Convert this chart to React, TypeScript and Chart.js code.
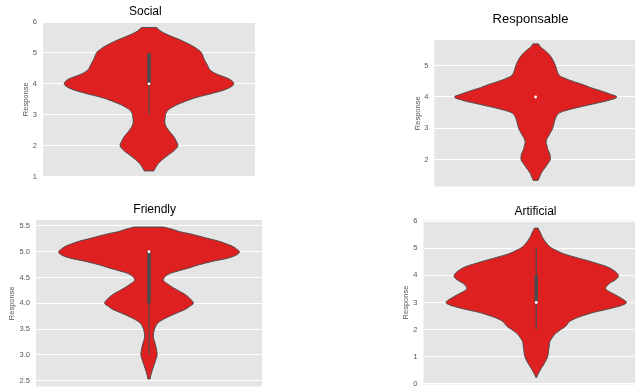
import React, { useEffect, useRef } from 'react';
import { Chart, registerables } from 'chart.js';

Chart.register(...registerables);

const FONT = '"Liberation Sans", Arial, Helvetica, sans-serif';
const RED = '#df2020';
const EDGE = '#4c4c4c';
const PANEL_BG = '#e5e5e5';
const TICK_COLOR = '#555555';
const VIOLIN_HALF = 0.4;

// ---- data: response levels and relative violin density (1 = widest) ----
const socialLevels = [1.18, 1.3, 1.42, 1.55, 1.7, 1.85, 2.0, 2.15, 2.3, 2.5, 2.7, 2.9, 3.1, 3.25, 3.4, 3.55, 3.7, 3.85, 4.0, 4.15, 4.3, 4.45, 4.6, 4.8, 5.0, 5.1, 5.2, 5.3, 5.42, 5.53, 5.64, 5.72, 5.82];
const socialDensity = [0.055, 0.08, 0.11, 0.16, 0.23, 0.3, 0.34, 0.32, 0.29, 0.23, 0.19, 0.19, 0.21, 0.28, 0.4, 0.55, 0.76, 0.93, 1.0, 0.95, 0.81, 0.72, 0.69, 0.65, 0.62, 0.58, 0.53, 0.46, 0.37, 0.27, 0.18, 0.13, 0.09];
const socialBox = [3, 4, 4, 5, 5];
const socialTicks = [1, 2, 3, 4, 5, 6];

const responsableLevels = [1.33, 1.45, 1.57, 1.68, 1.79, 1.9, 2.0, 2.1, 2.21, 2.32, 2.43, 2.59, 2.8, 3.0, 3.2, 3.4, 3.5, 3.6, 3.7, 3.8, 3.9, 4.0, 4.1, 4.2, 4.3, 4.4, 4.5, 4.6, 4.7, 4.87, 5.0, 5.2, 5.35, 5.5, 5.6, 5.7];
const responsableDensity = [0.03, 0.05, 0.07, 0.1, 0.13, 0.16, 0.18, 0.18, 0.17, 0.15, 0.14, 0.13, 0.17, 0.21, 0.23, 0.26, 0.3, 0.42, 0.58, 0.75, 0.91, 1.0, 0.91, 0.8, 0.68, 0.58, 0.46, 0.36, 0.29, 0.26, 0.245, 0.21, 0.17, 0.11, 0.06, 0.035];
const responsableBox = [4, 4, 4, 4, 4];
const responsableTicks = [2, 3, 4, 5];

const friendlyLevels = [2.53, 2.6, 2.69, 2.77, 2.85, 2.93, 3.0, 3.08, 3.17, 3.25, 3.33, 3.4, 3.46, 3.54, 3.62, 3.69, 3.75, 3.82, 3.88, 3.94, 4.0, 4.08, 4.17, 4.24, 4.3, 4.37, 4.44, 4.5, 4.56, 4.62, 4.69, 4.75, 4.82, 4.88, 4.94, 5.0, 5.05, 5.1, 5.15, 5.2, 5.25, 5.3, 5.35, 5.39, 5.44, 5.48];
const friendlyDensity = [0.012, 0.02, 0.035, 0.05, 0.066, 0.08, 0.09, 0.085, 0.075, 0.062, 0.05, 0.05, 0.055, 0.07, 0.1, 0.16, 0.23, 0.32, 0.4, 0.45, 0.49, 0.46, 0.4, 0.33, 0.27, 0.21, 0.16, 0.17, 0.21, 0.31, 0.45, 0.56, 0.72, 0.88, 0.97, 1.0, 0.97, 0.93, 0.86, 0.78, 0.67, 0.56, 0.45, 0.34, 0.25, 0.16];
const friendlyBox = [3, 4, 5, 5, 5];
const friendlyTicks = [2.5, 3.0, 3.5, 4.0, 4.5, 5.0, 5.5];

const artificialLevels = [0.24, 0.33, 0.45, 0.58, 0.7, 0.82, 0.94, 1.06, 1.18, 1.3, 1.43, 1.55, 1.64, 1.72, 1.81, 1.9, 2.0, 2.08, 2.18, 2.27, 2.36, 2.45, 2.55, 2.64, 2.73, 2.82, 2.91, 3.0, 3.1, 3.2, 3.28, 3.4, 3.5, 3.6, 3.7, 3.8, 3.9, 4.0, 4.1, 4.2, 4.31, 4.43, 4.55, 4.67, 4.8, 4.92, 5.04, 5.2, 5.34, 5.46, 5.58, 5.67, 5.74];
const artificialDensity = [0.005, 0.015, 0.035, 0.056, 0.08, 0.1, 0.118, 0.13, 0.135, 0.14, 0.145, 0.15, 0.165, 0.18, 0.2, 0.23, 0.27, 0.31, 0.34, 0.36, 0.4, 0.46, 0.55, 0.64, 0.76, 0.87, 0.96, 1.0, 0.97, 0.92, 0.88, 0.81, 0.77, 0.78, 0.81, 0.86, 0.9, 0.91, 0.89, 0.85, 0.79, 0.68, 0.56, 0.43, 0.3, 0.22, 0.155, 0.11, 0.08, 0.06, 0.045, 0.03, 0.02];
const artificialBox = [2, 3, 3, 4, 5];
const artificialTicks = [0, 1, 2, 3, 4, 5, 6];

const panelTitles = ['Social', 'Responsable', 'Friendly', 'Artificial'];
const axisLabel = 'Response';

type Panel = {
  title: string;
  levels: number[];
  density: number[];
  box: number[];
  ticks: number[];
  decimals: number;
  yMin: number;
  yMax: number;
  plot: { l: number; r: number; t: number; b: number };
  canvas: { l: number; t: number };
  clip: { l: number; t: number; w: number; h: number };
  titlePos: { x: number; y: number; size: number };
  labelX: number;
};

const panels: Panel[] = [
  {
    title: panelTitles[0], levels: socialLevels, density: socialDensity, box: socialBox, ticks: socialTicks, decimals: 0,
    yMin: 1, yMax: 6,
    plot: { l: 43, r: 255, t: 22, b: 177.5 }, canvas: { l: 0, t: 0 }, clip: { l: 0, t: 0, w: 300, h: 179 },
    titlePos: { x: 145.3, y: 12, size: 12 }, labelX: 25.5,
  },
  {
    title: panelTitles[1], levels: responsableLevels, density: responsableDensity, box: responsableBox, ticks: responsableTicks, decimals: 0,
    yMin: 1.134, yMax: 5.825,
    plot: { l: 434.3, r: 637, t: 40, b: 187.3 }, canvas: { l: 400, t: 0 }, clip: { l: 400, t: 0, w: 235, h: 195 },
    titlePos: { x: 530.5, y: 19.8, size: 13 }, labelX: 418.3,
  },
  {
    title: panelTitles[2], levels: friendlyLevels, density: friendlyDensity, box: friendlyBox, ticks: friendlyTicks, decimals: 1,
    yMin: 2.384, yMax: 5.616,
    plot: { l: 36, r: 262, t: 220, b: 387.7 }, canvas: { l: 0, t: 195 }, clip: { l: 0, t: 195, w: 300, h: 195 },
    titlePos: { x: 154.7, y: 210, size: 12 }, labelX: 12.3,
  },
  {
    title: panelTitles[3], levels: artificialLevels, density: artificialDensity, box: artificialBox, ticks: artificialTicks, decimals: 0,
    yMin: -0.02, yMax: 6.02,
    plot: { l: 423.5, r: 649, t: 220.5, b: 386 }, canvas: { l: 390, t: 195 }, clip: { l: 390, t: 195, w: 245, h: 195 },
    titlePos: { x: 535.5, y: 211.7, size: 12 }, labelX: 406,
  },
];

function ViolinPanel({ p }: { p: Panel }) {
  const ref = useRef<HTMLCanvasElement | null>(null);
  const W = Math.ceil(p.plot.r - p.canvas.l) + 4;
  const H = Math.ceil(p.plot.b - p.canvas.t) + 9;

  useEffect(() => {
    if (!ref.current) return;
    const right = p.levels.map((v, i) => ({ x: p.density[i] * VIOLIN_HALF, y: v }));
    const left = p.levels.map((v, i) => ({ x: -p.density[i] * VIOLIN_HALF, y: v }));
    const last = p.levels.length - 1;
    const [wLo, q1, med, q3, wHi] = p.box;

    const bgPlugin = {
      id: 'panelBg' + p.title,
      beforeDraw(chart: any) {
        const { ctx, chartArea } = chart;
        ctx.save();
        ctx.fillStyle = PANEL_BG;
        ctx.fillRect(chartArea.left, chartArea.top, chartArea.right - chartArea.left, chartArea.bottom - chartArea.top);
        ctx.restore();
      },
    };
    const titlePlugin = {
      id: 'panelTitle' + p.title,
      afterDraw(chart: any) {
        const { ctx } = chart;
        ctx.save();
        ctx.font = `${p.titlePos.size}px ${FONT}`;
        ctx.fillStyle = '#000000';
        ctx.textAlign = 'center';
        ctx.textBaseline = 'middle';
        ctx.fillText(p.title, p.titlePos.x - p.canvas.l, p.titlePos.y - p.canvas.t);
        ctx.restore();
      },
    };

    const edge = { borderColor: EDGE, borderWidth: 1, pointRadius: 0, pointHoverRadius: 0 };
    const chart = new Chart(ref.current, {
      type: 'line',
      data: {
        datasets: [
          { ...edge, data: right, backgroundColor: RED, fill: false, tension: 0.4, order: 5 },
          { ...edge, data: left, backgroundColor: RED, fill: '-1', tension: 0.4, order: 5 },
          { ...edge, data: [{ x: left[0].x, y: left[0].y }, { x: right[0].x, y: right[0].y }], fill: false, tension: 0, order: 4 },
          { ...edge, data: [{ x: left[last].x, y: left[last].y }, { x: right[last].x, y: right[last].y }], fill: false, tension: 0, order: 4 },
          { data: [{ x: 0, y: wLo }, { x: 0, y: wHi }], borderColor: EDGE, borderWidth: 1.2, pointRadius: 0, fill: false, tension: 0, order: 3 },
          { data: [{ x: 0, y: q1 }, { x: 0, y: q3 }], borderColor: EDGE, borderWidth: 3.5, borderCapStyle: 'butt', pointRadius: 0, fill: false, tension: 0, order: 2 },
          { data: [{ x: 0, y: med }], showLine: false, pointRadius: 1.4, pointBackgroundColor: '#ffffff', pointBorderWidth: 0, order: 1 },
        ] as any,
      },
      options: {
        indexAxis: 'y',
        animation: false,
        responsive: false,
        devicePixelRatio: 1,
        events: [],
        layout: {
          padding: {
            left: 0,
            top: p.plot.t - p.canvas.t,
            right: W - (p.plot.r - p.canvas.l),
            bottom: H - (p.plot.b - p.canvas.t),
          },
        },
        plugins: { legend: { display: false }, tooltip: { enabled: false }, title: { display: false } },
        scales: {
          x: { type: 'linear', min: -0.5, max: 0.5, display: false },
          y: {
            type: 'linear',
            min: p.yMin,
            max: p.yMax,
            afterFit: (s: any) => { s.width = p.plot.l - p.canvas.l; },
            afterBuildTicks: (s: any) => { s.ticks = p.ticks.map((v) => ({ value: v })); },
            grid: { color: '#ffffff', lineWidth: 1, drawTicks: false },
            border: { display: false },
            ticks: {
              color: TICK_COLOR,
              font: { family: FONT, size: 7.5 },
              padding: 6,
              callback: (v: any) => Number(v).toFixed(p.decimals),
            },
            title: {
              display: true,
              text: axisLabel,
              color: TICK_COLOR,
              font: { family: FONT, size: 7.5 },
              padding: { top: p.labelX - p.canvas.l - 4.5, bottom: 0 },
            },
          },
        },
      } as any,
      plugins: [bgPlugin, titlePlugin],
    });
    return () => chart.destroy();
  }, []);

  return (
    <div style={{ position: 'absolute', left: p.clip.l, top: p.clip.t, width: p.clip.w, height: p.clip.h, overflow: 'hidden' }}>
      <canvas
        ref={ref}
        width={W}
        height={H}
        style={{ position: 'absolute', left: p.canvas.l - p.clip.l, top: p.canvas.t - p.clip.t, width: W, height: H }}
      />
    </div>
  );
}

export default function App() {
  return (
    <div style={{ position: 'fixed', left: 0, top: 0, width: 635, height: 390, overflow: 'hidden', background: '#ffffff' }}>
      {panels.map((p) => (
        <ViolinPanel key={p.title} p={p} />
      ))}
    </div>
  );
}
